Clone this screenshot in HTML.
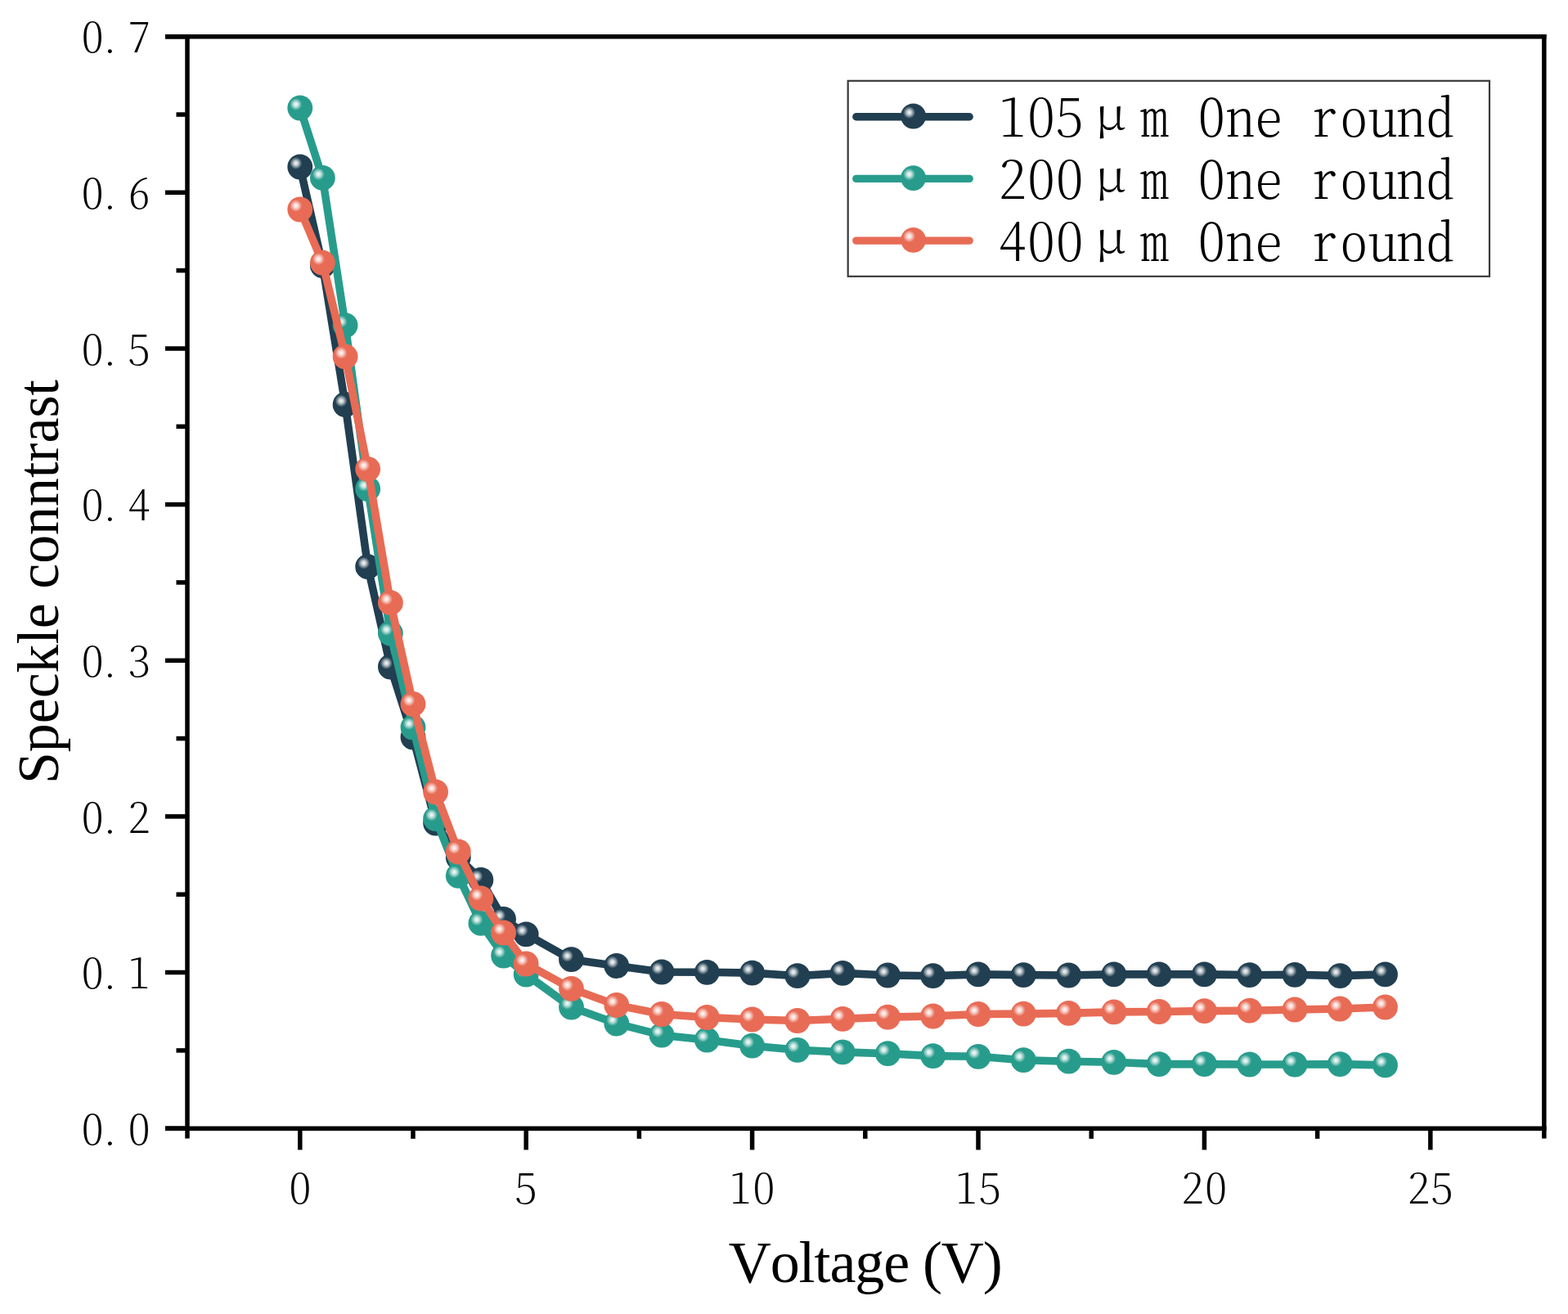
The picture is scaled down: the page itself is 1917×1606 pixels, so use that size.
<!DOCTYPE html>
<html><head><meta charset="utf-8"><title>Speckle contrast vs Voltage</title>
<style>
html,body{margin:0;padding:0;background:#fff;width:1917px;height:1606px;overflow:hidden}
svg{display:block}
.t{font-family:"Noto Serif CJK SC","Liberation Serif",serif;font-feature-settings:"hwid";font-weight:200;fill:#000}
.u{font-family:"Noto Serif CJK SC","Liberation Serif",serif;font-weight:300;fill:#000}
.s{font-family:"Liberation Serif","Noto Serif CJK SC",serif;fill:#000}
</style></head><body>
<svg width="1917" height="1606" viewBox="0 0 1917 1606">
<defs>
<radialGradient id="hl">
<stop offset="0" stop-color="#fff" stop-opacity="0.97"/>
<stop offset="0.35" stop-color="#fff" stop-opacity="0.75"/>
<stop offset="1" stop-color="#fff" stop-opacity="0"/>
</radialGradient>
<g id="m_dark"><circle r="15.4" fill="#213f51"/><circle cx="-5" cy="-4.5" r="7.5" fill="url(#hl)"/></g>
<g id="m_teal"><circle r="15.4" fill="#289c8c"/><circle cx="-5" cy="-4.5" r="7.5" fill="url(#hl)"/></g>
<g id="m_oran"><circle r="15.4" fill="#e86b55"/><circle cx="-5" cy="-4.5" r="7.5" fill="url(#hl)"/></g>
</defs>
<rect width="1917" height="1606" fill="#fff"/>
<polyline points="366.8,204.0 394.4,324.5 422.1,494.5 449.7,692.7 477.4,815.0 505.0,901.0 532.6,1006.0 560.3,1048.0 587.9,1075.4 615.6,1123.3 643.2,1141.8 698.5,1172.7 753.8,1180.5 809.0,1188.0 864.3,1188.3 919.6,1189.1 974.9,1192.7 1030.2,1189.4 1085.4,1192.0 1140.7,1192.7 1196.0,1190.9 1251.3,1191.6 1306.6,1192.0 1361.8,1190.9 1417.1,1190.9 1472.4,1190.9 1527.7,1191.7 1583.0,1191.3 1638.2,1192.6 1693.5,1190.9" fill="none" stroke="#213f51" stroke-width="9.6" stroke-linejoin="round" stroke-linecap="round"/>
<use href="#m_dark" x="366.8" y="204.0"/><use href="#m_dark" x="394.4" y="324.5"/><use href="#m_dark" x="422.1" y="494.5"/><use href="#m_dark" x="449.7" y="692.7"/><use href="#m_dark" x="477.4" y="815.0"/><use href="#m_dark" x="505.0" y="901.0"/><use href="#m_dark" x="532.6" y="1006.0"/><use href="#m_dark" x="560.3" y="1048.0"/><use href="#m_dark" x="587.9" y="1075.4"/><use href="#m_dark" x="615.6" y="1123.3"/><use href="#m_dark" x="643.2" y="1141.8"/><use href="#m_dark" x="698.5" y="1172.7"/><use href="#m_dark" x="753.8" y="1180.5"/><use href="#m_dark" x="809.0" y="1188.0"/><use href="#m_dark" x="864.3" y="1188.3"/><use href="#m_dark" x="919.6" y="1189.1"/><use href="#m_dark" x="974.9" y="1192.7"/><use href="#m_dark" x="1030.2" y="1189.4"/><use href="#m_dark" x="1085.4" y="1192.0"/><use href="#m_dark" x="1140.7" y="1192.7"/><use href="#m_dark" x="1196.0" y="1190.9"/><use href="#m_dark" x="1251.3" y="1191.6"/><use href="#m_dark" x="1306.6" y="1192.0"/><use href="#m_dark" x="1361.8" y="1190.9"/><use href="#m_dark" x="1417.1" y="1190.9"/><use href="#m_dark" x="1472.4" y="1190.9"/><use href="#m_dark" x="1527.7" y="1191.7"/><use href="#m_dark" x="1583.0" y="1191.3"/><use href="#m_dark" x="1638.2" y="1192.6"/><use href="#m_dark" x="1693.5" y="1190.9"/>
<polyline points="366.8,132.0 394.4,217.4 422.1,397.6 449.7,597.5 477.4,774.0 505.0,889.0 532.6,1000.6 560.3,1070.4 587.9,1128.4 615.6,1168.0 643.2,1191.0 698.5,1231.0 753.8,1251.0 809.0,1265.2 864.3,1271.0 919.6,1278.2 974.9,1283.3 1030.2,1285.9 1085.4,1287.7 1140.7,1290.6 1196.0,1291.3 1251.3,1295.7 1306.6,1297.2 1361.8,1298.3 1417.1,1300.6 1472.4,1300.6 1527.7,1301.0 1583.0,1301.0 1638.2,1300.6 1693.5,1301.9" fill="none" stroke="#289c8c" stroke-width="9.6" stroke-linejoin="round" stroke-linecap="round"/>
<use href="#m_teal" x="366.8" y="132.0"/><use href="#m_teal" x="394.4" y="217.4"/><use href="#m_teal" x="422.1" y="397.6"/><use href="#m_teal" x="449.7" y="597.5"/><use href="#m_teal" x="477.4" y="774.0"/><use href="#m_teal" x="505.0" y="889.0"/><use href="#m_teal" x="532.6" y="1000.6"/><use href="#m_teal" x="560.3" y="1070.4"/><use href="#m_teal" x="587.9" y="1128.4"/><use href="#m_teal" x="615.6" y="1168.0"/><use href="#m_teal" x="643.2" y="1191.0"/><use href="#m_teal" x="698.5" y="1231.0"/><use href="#m_teal" x="753.8" y="1251.0"/><use href="#m_teal" x="809.0" y="1265.2"/><use href="#m_teal" x="864.3" y="1271.0"/><use href="#m_teal" x="919.6" y="1278.2"/><use href="#m_teal" x="974.9" y="1283.3"/><use href="#m_teal" x="1030.2" y="1285.9"/><use href="#m_teal" x="1085.4" y="1287.7"/><use href="#m_teal" x="1140.7" y="1290.6"/><use href="#m_teal" x="1196.0" y="1291.3"/><use href="#m_teal" x="1251.3" y="1295.7"/><use href="#m_teal" x="1306.6" y="1297.2"/><use href="#m_teal" x="1361.8" y="1298.3"/><use href="#m_teal" x="1417.1" y="1300.6"/><use href="#m_teal" x="1472.4" y="1300.6"/><use href="#m_teal" x="1527.7" y="1301.0"/><use href="#m_teal" x="1583.0" y="1301.0"/><use href="#m_teal" x="1638.2" y="1300.6"/><use href="#m_teal" x="1693.5" y="1301.9"/>
<polyline points="366.8,256.0 394.4,321.1 422.1,435.8 449.7,573.3 477.4,736.7 505.0,860.5 532.6,968.0 560.3,1041.0 587.9,1098.0 615.6,1140.0 643.2,1178.0 698.5,1208.3 753.8,1228.5 809.0,1239.5 864.3,1243.5 919.6,1246.0 974.9,1247.5 1030.2,1245.3 1085.4,1243.1 1140.7,1242.0 1196.0,1239.5 1251.3,1239.1 1306.6,1238.4 1361.8,1236.9 1417.1,1236.5 1472.4,1235.6 1527.7,1235.2 1583.0,1234.0 1638.2,1233.0 1693.5,1231.0" fill="none" stroke="#e86b55" stroke-width="9.6" stroke-linejoin="round" stroke-linecap="round"/>
<use href="#m_oran" x="366.8" y="256.0"/><use href="#m_oran" x="394.4" y="321.1"/><use href="#m_oran" x="422.1" y="435.8"/><use href="#m_oran" x="449.7" y="573.3"/><use href="#m_oran" x="477.4" y="736.7"/><use href="#m_oran" x="505.0" y="860.5"/><use href="#m_oran" x="532.6" y="968.0"/><use href="#m_oran" x="560.3" y="1041.0"/><use href="#m_oran" x="587.9" y="1098.0"/><use href="#m_oran" x="615.6" y="1140.0"/><use href="#m_oran" x="643.2" y="1178.0"/><use href="#m_oran" x="698.5" y="1208.3"/><use href="#m_oran" x="753.8" y="1228.5"/><use href="#m_oran" x="809.0" y="1239.5"/><use href="#m_oran" x="864.3" y="1243.5"/><use href="#m_oran" x="919.6" y="1246.0"/><use href="#m_oran" x="974.9" y="1247.5"/><use href="#m_oran" x="1030.2" y="1245.3"/><use href="#m_oran" x="1085.4" y="1243.1"/><use href="#m_oran" x="1140.7" y="1242.0"/><use href="#m_oran" x="1196.0" y="1239.5"/><use href="#m_oran" x="1251.3" y="1239.1"/><use href="#m_oran" x="1306.6" y="1238.4"/><use href="#m_oran" x="1361.8" y="1236.9"/><use href="#m_oran" x="1417.1" y="1236.5"/><use href="#m_oran" x="1472.4" y="1235.6"/><use href="#m_oran" x="1527.7" y="1235.2"/><use href="#m_oran" x="1583.0" y="1234.0"/><use href="#m_oran" x="1638.2" y="1233.0"/><use href="#m_oran" x="1693.5" y="1231.0"/>
<g stroke="#000" stroke-width="5.5" fill="none" stroke-linecap="butt">
<line x1="229.0" y1="42.05" x2="229.0" y2="1391.5"/>
<line x1="1887.8" y1="42.05" x2="1887.8" y2="1391.5"/>
<line x1="202" y1="44.8" x2="1890.55" y2="44.8"/>
<line x1="202" y1="1379.2" x2="1890.55" y2="1379.2"/>
<line x1="202" y1="1379.2" x2="229.0" y2="1379.2"/><line x1="215.5" y1="1283.9" x2="229.0" y2="1283.9"/><line x1="202" y1="1188.5" x2="229.0" y2="1188.5"/><line x1="215.5" y1="1093.2" x2="229.0" y2="1093.2"/><line x1="202" y1="997.9" x2="229.0" y2="997.9"/><line x1="215.5" y1="902.6" x2="229.0" y2="902.6"/><line x1="202" y1="807.3" x2="229.0" y2="807.3"/><line x1="215.5" y1="711.9" x2="229.0" y2="711.9"/><line x1="202" y1="616.6" x2="229.0" y2="616.6"/><line x1="215.5" y1="521.3" x2="229.0" y2="521.3"/><line x1="202" y1="426.0" x2="229.0" y2="426.0"/><line x1="215.5" y1="330.6" x2="229.0" y2="330.6"/><line x1="202" y1="235.3" x2="229.0" y2="235.3"/><line x1="215.5" y1="140.0" x2="229.0" y2="140.0"/><line x1="202" y1="44.7" x2="229.0" y2="44.7"/>
<line x1="366.8" y1="1379.2" x2="366.8" y2="1405.4"/><line x1="643.2" y1="1379.2" x2="643.2" y2="1405.4"/><line x1="919.6" y1="1379.2" x2="919.6" y2="1405.4"/><line x1="1196.0" y1="1379.2" x2="1196.0" y2="1405.4"/><line x1="1472.4" y1="1379.2" x2="1472.4" y2="1405.4"/><line x1="1748.8" y1="1379.2" x2="1748.8" y2="1405.4"/><line x1="505.0" y1="1379.2" x2="505.0" y2="1391.8"/><line x1="781.4" y1="1379.2" x2="781.4" y2="1391.8"/><line x1="1057.8" y1="1379.2" x2="1057.8" y2="1391.8"/><line x1="1334.2" y1="1379.2" x2="1334.2" y2="1391.8"/><line x1="1610.6" y1="1379.2" x2="1610.6" y2="1391.8"/>
</g>
<text class="t" font-size="50" text-anchor="middle" transform="translate(113.1,1398.8) scale(1.09,1)">0</text><text class="t" font-size="50" text-anchor="middle" transform="translate(134.4,1398.8) scale(1.09,1)">.</text><text class="t" font-size="50" text-anchor="middle" transform="translate(170.1,1398.8) scale(1.09,1)">0</text>
<text class="t" font-size="50" text-anchor="middle" transform="translate(113.1,1208.1) scale(1.09,1)">0</text><text class="t" font-size="50" text-anchor="middle" transform="translate(134.4,1208.1) scale(1.09,1)">.</text><text class="t" font-size="50" text-anchor="middle" transform="translate(170.1,1208.1) scale(1.09,1)">1</text>
<text class="t" font-size="50" text-anchor="middle" transform="translate(113.1,1017.5) scale(1.09,1)">0</text><text class="t" font-size="50" text-anchor="middle" transform="translate(134.4,1017.5) scale(1.09,1)">.</text><text class="t" font-size="50" text-anchor="middle" transform="translate(170.1,1017.5) scale(1.09,1)">2</text>
<text class="t" font-size="50" text-anchor="middle" transform="translate(113.1,826.9) scale(1.09,1)">0</text><text class="t" font-size="50" text-anchor="middle" transform="translate(134.4,826.9) scale(1.09,1)">.</text><text class="t" font-size="50" text-anchor="middle" transform="translate(170.1,826.9) scale(1.09,1)">3</text>
<text class="t" font-size="50" text-anchor="middle" transform="translate(113.1,636.2) scale(1.09,1)">0</text><text class="t" font-size="50" text-anchor="middle" transform="translate(134.4,636.2) scale(1.09,1)">.</text><text class="t" font-size="50" text-anchor="middle" transform="translate(170.1,636.2) scale(1.09,1)">4</text>
<text class="t" font-size="50" text-anchor="middle" transform="translate(113.1,445.6) scale(1.09,1)">0</text><text class="t" font-size="50" text-anchor="middle" transform="translate(134.4,445.6) scale(1.09,1)">.</text><text class="t" font-size="50" text-anchor="middle" transform="translate(170.1,445.6) scale(1.09,1)">5</text>
<text class="t" font-size="50" text-anchor="middle" transform="translate(113.1,254.9) scale(1.09,1)">0</text><text class="t" font-size="50" text-anchor="middle" transform="translate(134.4,254.9) scale(1.09,1)">.</text><text class="t" font-size="50" text-anchor="middle" transform="translate(170.1,254.9) scale(1.09,1)">6</text>
<text class="t" font-size="50" text-anchor="middle" transform="translate(113.1,64.3) scale(1.09,1)">0</text><text class="t" font-size="50" text-anchor="middle" transform="translate(134.4,64.3) scale(1.09,1)">.</text><text class="t" font-size="50" text-anchor="middle" transform="translate(170.1,64.3) scale(1.09,1)">7</text>
<text class="t" font-size="50" text-anchor="middle" transform="translate(366.8,1471.2) scale(1.09,1)">0</text><text class="t" font-size="50" text-anchor="middle" transform="translate(643.2,1471.2) scale(1.09,1)">5</text><text class="t" font-size="50" text-anchor="middle" transform="translate(905.3,1471.2) scale(1.09,1)">1</text><text class="t" font-size="50" text-anchor="middle" transform="translate(933.9,1471.2) scale(1.09,1)">0</text><text class="t" font-size="50" text-anchor="middle" transform="translate(1181.7,1471.2) scale(1.09,1)">1</text><text class="t" font-size="50" text-anchor="middle" transform="translate(1210.3,1471.2) scale(1.09,1)">5</text><text class="t" font-size="50" text-anchor="middle" transform="translate(1458.1,1471.2) scale(1.09,1)">2</text><text class="t" font-size="50" text-anchor="middle" transform="translate(1486.7,1471.2) scale(1.09,1)">0</text><text class="t" font-size="50" text-anchor="middle" transform="translate(1734.5,1471.2) scale(1.09,1)">2</text><text class="t" font-size="50" text-anchor="middle" transform="translate(1763.1,1471.2) scale(1.09,1)">5</text>
<text class="s" font-size="72" x="890.8" y="1567.3" style="font-kerning:none" textLength="334.9" lengthAdjust="spacing">Voltage (V)</text>
<text class="s" font-size="72" transform="translate(71.1,958) rotate(-90)" textLength="494" lengthAdjust="spacingAndGlyphs">Speckle conntrast</text>
<rect x="1036.7" y="98.8" width="784.3" height="239" fill="none" stroke="#3a3a3a" stroke-width="2.2"/>
<line x1="1046.8" y1="142.8" x2="1185.2" y2="142.8" stroke="#213f51" stroke-width="9.4" stroke-linecap="round"/><use href="#m_dark" x="1116.6" y="142.0"/>
<text class="t" font-size="63" text-anchor="middle" transform="translate(1238.0,167.4) scale(1.08,1)">1</text><text class="t" font-size="63" text-anchor="middle" transform="translate(1272.9,167.4) scale(1.08,1)">0</text><text class="t" font-size="63" text-anchor="middle" transform="translate(1307.8,167.4) scale(1.08,1)">5</text><text class="u" font-size="55" text-anchor="middle" transform="translate(1357.7,157.9) scale(1.12,1)">μ</text><text class="t" font-size="63" text-anchor="middle" transform="translate(1411.5,167.4) scale(1.08,1)">m</text><text class="t" font-size="63" text-anchor="middle" transform="translate(1481.3,167.4) scale(1.08,1)">O</text><text class="t" font-size="63" text-anchor="middle" transform="translate(1516.2,167.4) scale(1.08,1)">n</text><text class="t" font-size="63" text-anchor="middle" transform="translate(1551.1,167.4) scale(1.08,1)">e</text><text class="t" font-size="63" text-anchor="middle" transform="translate(1617.4,167.4) scale(1.08,1)">r</text><text class="t" font-size="63" text-anchor="middle" transform="translate(1655.3,167.4) scale(1.08,1)">o</text><text class="t" font-size="63" text-anchor="middle" transform="translate(1690.2,167.4) scale(1.08,1)">u</text><text class="t" font-size="63" text-anchor="middle" transform="translate(1725.1,167.4) scale(1.08,1)">n</text><text class="t" font-size="63" text-anchor="middle" transform="translate(1760.0,167.4) scale(1.08,1)">d</text>
<line x1="1046.8" y1="218.4" x2="1185.2" y2="218.4" stroke="#289c8c" stroke-width="9.4" stroke-linecap="round"/><use href="#m_teal" x="1116.6" y="217.6"/>
<text class="t" font-size="63" text-anchor="middle" transform="translate(1238.0,243.0) scale(1.08,1)">2</text><text class="t" font-size="63" text-anchor="middle" transform="translate(1272.9,243.0) scale(1.08,1)">0</text><text class="t" font-size="63" text-anchor="middle" transform="translate(1307.8,243.0) scale(1.08,1)">0</text><text class="u" font-size="55" text-anchor="middle" transform="translate(1357.7,233.5) scale(1.12,1)">μ</text><text class="t" font-size="63" text-anchor="middle" transform="translate(1411.5,243.0) scale(1.08,1)">m</text><text class="t" font-size="63" text-anchor="middle" transform="translate(1481.3,243.0) scale(1.08,1)">O</text><text class="t" font-size="63" text-anchor="middle" transform="translate(1516.2,243.0) scale(1.08,1)">n</text><text class="t" font-size="63" text-anchor="middle" transform="translate(1551.1,243.0) scale(1.08,1)">e</text><text class="t" font-size="63" text-anchor="middle" transform="translate(1617.4,243.0) scale(1.08,1)">r</text><text class="t" font-size="63" text-anchor="middle" transform="translate(1655.3,243.0) scale(1.08,1)">o</text><text class="t" font-size="63" text-anchor="middle" transform="translate(1690.2,243.0) scale(1.08,1)">u</text><text class="t" font-size="63" text-anchor="middle" transform="translate(1725.1,243.0) scale(1.08,1)">n</text><text class="t" font-size="63" text-anchor="middle" transform="translate(1760.0,243.0) scale(1.08,1)">d</text>
<line x1="1046.8" y1="294.1" x2="1185.2" y2="294.1" stroke="#e86b55" stroke-width="9.4" stroke-linecap="round"/><use href="#m_oran" x="1116.6" y="293.3"/>
<text class="t" font-size="63" text-anchor="middle" transform="translate(1238.0,318.7) scale(1.08,1)">4</text><text class="t" font-size="63" text-anchor="middle" transform="translate(1272.9,318.7) scale(1.08,1)">0</text><text class="t" font-size="63" text-anchor="middle" transform="translate(1307.8,318.7) scale(1.08,1)">0</text><text class="u" font-size="55" text-anchor="middle" transform="translate(1357.7,309.2) scale(1.12,1)">μ</text><text class="t" font-size="63" text-anchor="middle" transform="translate(1411.5,318.7) scale(1.08,1)">m</text><text class="t" font-size="63" text-anchor="middle" transform="translate(1481.3,318.7) scale(1.08,1)">O</text><text class="t" font-size="63" text-anchor="middle" transform="translate(1516.2,318.7) scale(1.08,1)">n</text><text class="t" font-size="63" text-anchor="middle" transform="translate(1551.1,318.7) scale(1.08,1)">e</text><text class="t" font-size="63" text-anchor="middle" transform="translate(1617.4,318.7) scale(1.08,1)">r</text><text class="t" font-size="63" text-anchor="middle" transform="translate(1655.3,318.7) scale(1.08,1)">o</text><text class="t" font-size="63" text-anchor="middle" transform="translate(1690.2,318.7) scale(1.08,1)">u</text><text class="t" font-size="63" text-anchor="middle" transform="translate(1725.1,318.7) scale(1.08,1)">n</text><text class="t" font-size="63" text-anchor="middle" transform="translate(1760.0,318.7) scale(1.08,1)">d</text>
</svg>
</body></html>
